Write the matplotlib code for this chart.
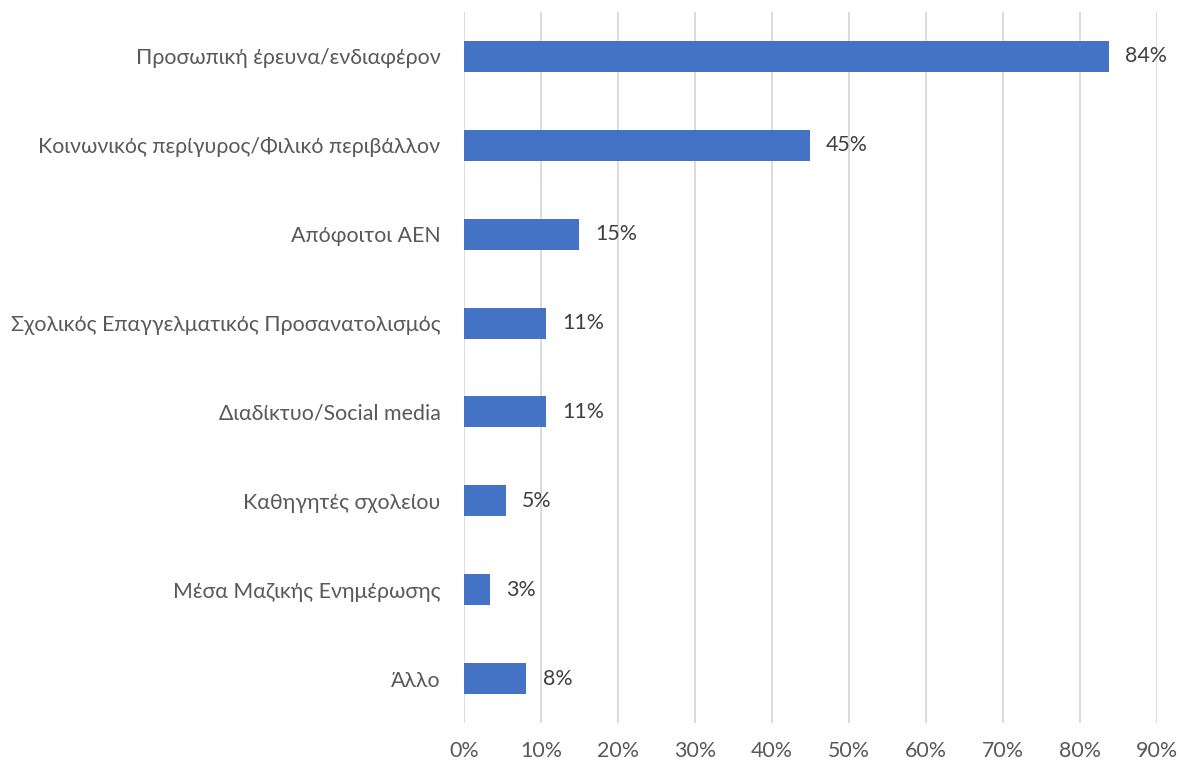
import matplotlib
matplotlib.use("Agg")
import matplotlib.pyplot as plt
from matplotlib.ticker import PercentFormatter

# data (percent)
categories = [
    "Προσωπική έρευνα/ενδιαφέρον",
    "Κοινωνικός περίγυρος/Φιλικό περιβάλλον",
    "Απόφοιτοι ΑΕΝ",
    "Σχολικός Επαγγελματικός Προσανατολισμός",
    "Διαδίκτυο/Social media",
    "Καθηγητές σχολείου",
    "Μέσα Μαζικής Ενημέρωσης",
    "Άλλο",
]
values = [83.8, 44.9, 14.9, 10.7, 10.7, 5.4, 3.4, 8.1]
labels = ["84%", "45%", "15%", "11%", "11%", "5%", "3%", "8%"]
xticks = list(range(0, 100, 10))

plt.rcParams['font.family'] = ['Lato', 'DejaVu Sans']
fs = 15.4

fig = plt.figure(figsize=(11.79, 7.63), dpi=100)
ax = fig.add_axes([0.3936, 1 - 723 / 763, 0.9813 - 0.3936, 711 / 763])

pos = list(range(len(categories)))
ax.barh(pos, values, height=0.35, color="#4472C4", zorder=3)

# value labels to the right of each bar
for p, v, lab in zip(pos, values, labels):
    ax.text(v + 2.1, p, lab, va="center", ha="left", fontsize=fs, color="#404040")

ax.set_yticks(pos)
ax.set_yticklabels(categories, fontsize=fs, color="#595959")
ax.set_ylim(len(categories) - 0.5, -0.5)

ax.set_xlim(0, 90)
ax.set_xticks(xticks)
ax.xaxis.set_major_formatter(PercentFormatter(decimals=0))
ax.tick_params(axis="x", labelsize=fs, labelcolor="#595959", length=0, pad=13)
ax.tick_params(axis="y", length=0, pad=17)

ax.grid(axis="x", color="#d9d9d9", linewidth=1.3, zorder=0)
for s in ax.spines.values():
    s.set_visible(False)

fig.savefig("out.png", dpi=100)
